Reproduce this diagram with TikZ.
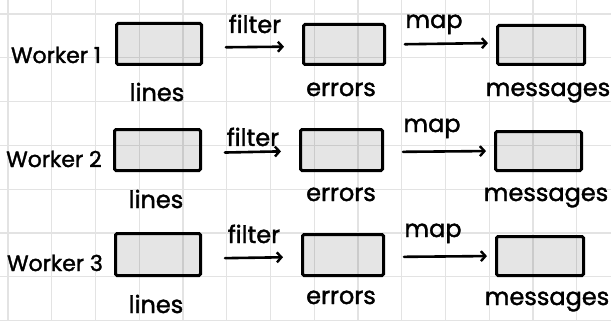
\documentclass[tikz,border=0pt]{standalone}
\usepackage{fontspec}
\setmainfont{Poppins}[FakeBold=1.6]
\newfontfamily\hand{Poppins}[FakeBold=1.6]
\usetikzlibrary{arrows.meta}
\tikzset{
  gridline/.style={draw=black!11, line width=1.3pt},
  box/.style={draw=black, line width=3pt, fill=black, fill opacity=0.1, draw opacity=1, text opacity=1, rounded corners=1.5pt, inner sep=0pt},
  lbl/.style={anchor=base, inner sep=0pt, font=\hand\fontsize{24}{28}\selectfont},
  wlbl/.style={anchor=base, inner sep=0pt, font=\hand\fontsize{22}{26}\selectfont},
  flow/.style={line width=2.6pt, line cap=round, -{Straight Barb[length=4.5pt,width=10pt,line width=2.4pt]}},
  farrow/.style={flow, shorten <=23pt, shorten >=18pt},
  marrow/.style={flow, shorten <=19pt, shorten >=8pt},
}
\begin{document}
\begin{tikzpicture}[x=1pt,y=-1pt]
\useasboundingbox (0,0) rectangle (611,321);
\fill[white] (0,0) rectangle (611,321);
\foreach \i in {0,...,13} \draw[gridline] ({8+43.75*\i},0) -- ++(0,321);
\foreach \j in {0,...,7} \draw[gridline] (0,{14+43.8*\j}) -- ++(611,0);

% row 1
\node[box, minimum width=85pt, minimum height=41pt] (l1) at (159,44) {};
\node[box, minimum width=81pt, minimum height=40pt] (e1) at (344,44.5) {};
\node[box, minimum width=87pt, minimum height=39pt] (m1) at (541,45) {};
% row 2
\node[box, minimum width=86pt, minimum height=41pt] (l2) at (157.5,150) {};
\node[box, minimum width=82pt, minimum height=41pt] (e2) at (341.5,150) {};
\node[box, minimum width=86pt, minimum height=39pt] (m2) at (538.5,151) {};
% row 3
\node[box, minimum width=85pt, minimum height=42pt] (l3) at (158,254.5) {};
\node[box, minimum width=81pt, minimum height=41pt] (e3) at (343,255) {};
\node[box, minimum width=87pt, minimum height=39pt] (m3) at (540,256) {};

\node[wlbl] (w1) at (56,63) {Worker 1};
\node[wlbl] (w2) at (54,167) {Worker 2};
\node[wlbl] (w3) at (55,271) {Worker 3};

\node[lbl] (tl1) at (157,101) {lines};
\node[lbl] (tl2) at (156,208) {lines};
\node[lbl] (tl3) at (156,313) {lines};
\node[lbl] (te1) at (341,96) {errors};
\node[lbl] (te2) at (341,201) {errors};
\node[lbl] (te3) at (341,304) {errors};
\node[lbl] (tm1) at (548,96) {messages};
\node[lbl] (tm2) at (546,201) {messages};
\node[lbl] (tm3) at (547,305) {messages};

\node[lbl] (f1) at (255,33) {filter};
\node[lbl] (f2) at (253,146) {filter};
\node[lbl] (f3) at (254,243) {filter};
\node[lbl] (p1) at (434,28) {map};
\node[lbl] (p2) at (432,132) {map};
\node[lbl] (p3) at (433,237) {map};

\draw[farrow] ([yshift=-3.5pt]l1.east) -- ([yshift=-2pt]e1.west);
\draw[farrow] ([yshift=-3pt]l2.east) -- ([yshift=-1pt]e2.west);
\draw[farrow] ([yshift=-4pt]l3.east) -- ([yshift=-2pt]e3.west);
\draw[marrow] ([yshift=0pt]e1.east) -- ([yshift=2pt]m1.west);
\draw[marrow] ([yshift=-2pt]e2.east) -- ([yshift=0pt]m2.west);
\draw[marrow] ([yshift=-2pt]e3.east) -- ([yshift=0pt]m3.west);
\end{tikzpicture}
\end{document}
